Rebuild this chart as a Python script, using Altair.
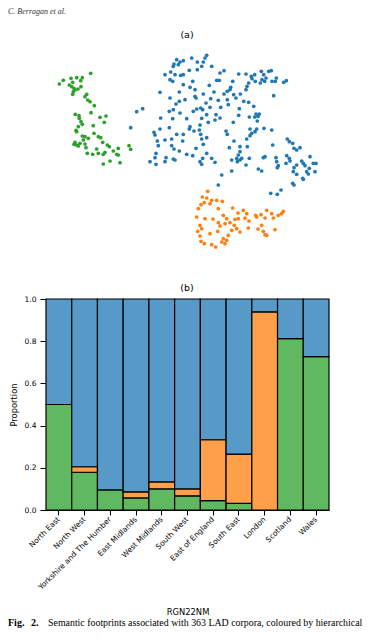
import altair as alt
import pandas as pd

# ---------------- data: panel (b) ----------------
regions = ["North East", "North West", "Yorkshire and The Humber", "East Midlands",
           "West Midlands", "South West", "East of England", "South East",
           "London", "Scotland", "Wales"]
green_share = [0.5, 0.179, 0.095, 0.057, 0.1, 0.067, 0.044, 0.031, 0.0, 0.8125, 0.727]
orange_share = [0.0, 0.026, 0.0, 0.029, 0.033, 0.033, 0.289, 0.234, 0.939, 0.0, 0.0]
blue_share = [0.5, 0.795, 0.905, 0.914, 0.867, 0.9, 0.667, 0.735, 0.061, 0.1875, 0.273]

clusters = ["green", "orange", "blue"]
bar_colors = ["#60b860", "#ff9f4a", "#5799c7"]
point_colors = ["#2ca02c", "#ff7f0e", "#1f77b4"]

# ---------------- data: panel (a) ----------------
green_pts = [(90.7, 73.3), (59.3, 84), (63.3, 80.3), (71, 78.3), (76.7, 77.7), (82.3, 77.7),
             (80.7, 80.7), (69.3, 85), (71.7, 86.7), (74, 88.3), (73.3, 91.7), (72.7, 94.3),
             (81, 86.7), (75, 90), (86.7, 94.3), (85, 96.7), (87.7, 100), (90, 101.7),
             (94.3, 105.7), (91, 112.7), (75.3, 114.3), (79.3, 118.3), (81, 121.7), (82.3, 124.3),
             (78.3, 126.7), (76.7, 131.7), (100, 117.3), (106, 116), (104.3, 122.3), (93.3, 125.7),
             (94, 133.3), (98.3, 136.7), (100.7, 137.7), (82.3, 136), (88.3, 138.3), (83.3, 140),
             (75, 142.3), (76.7, 145), (78.3, 146), (80, 143.3), (85, 144), (102.7, 142.3),
             (107.3, 145), (109.3, 146.7), (96.7, 149), (98.3, 153.3), (103.3, 154.3), (113.3, 151),
             (118.3, 148.3), (116.7, 154.3), (87.3, 153.3), (92.7, 154.3), (110, 161), (103.3, 164),
             (120, 162.7), (129, 145.7), (130.7, 149.3), (74, 144.3), (72.7, 82.3), (78, 89),
             (76, 130.3), (85, 136.7), (86, 147.7), (105, 152.3), (118.3, 155), (79, 115.7)]

blue_pts = [(206.7, 55.3), (205, 58), (203.3, 62), (201.7, 66.3), (197.3, 62), (191.7, 58),
            (183.3, 60.7), (180, 62), (176.7, 59.7), (174, 64), (178.3, 64.7), (173.3, 66.3),
            (165, 74.7), (170.7, 72), (175, 74.7), (180.7, 75.3), (183.3, 74.7), (189.3, 70.3),
            (197.3, 69.7), (211.7, 66.3), (170, 79.7), (172.7, 81.3), (192.7, 81.3), (183.3, 84.7),
            (220, 73), (224, 70.7), (216.7, 80.3), (219.3, 80.3), (232.7, 81.3), (209.3, 85.3),
            (160, 92.3), (179.3, 92), (190, 87.3), (195, 89.7), (203.3, 94), (214, 92), (224, 94),
            (227.3, 91.3), (230, 89.7), (170, 98), (179.3, 101.3), (185, 99.7), (195, 96.3),
            (196, 98), (210.7, 98.7), (218.3, 100.3), (227.3, 99.7), (228.3, 104.7), (176, 104),
            (206, 103), (220.7, 107.3), (142.7, 108.7), (173.3, 109.7), (169.3, 111.3), (180, 113),
            (193.3, 111.3), (196.7, 109), (200.7, 108), (202.7, 109.7), (210, 107.3), (206.7, 114.7),
            (216, 114.7), (220, 118), (160.7, 118), (172.7, 118.7), (186.7, 118.7), (230.7, 87.3),
            (238.7, 74), (246, 74), (251.3, 76.3), (254.7, 74.7), (252, 78.7), (255.3, 81.3),
            (261.3, 71.3), (263.7, 74.7), (268.7, 71.3), (271.3, 70.7), (266, 78), (262, 79.7),
            (264.7, 81.3), (260.3, 83), (272, 81.3), (275.3, 81.3), (276.3, 78), (283.7, 82.3),
            (286.3, 80.7), (248.7, 83), (247, 86.3), (246, 89.7), (233.7, 94.7), (236, 98),
            (240.3, 94), (273.7, 95.7), (243.7, 101.3), (248.7, 102.3), (253.7, 106.3), (239.3, 108.7),
            (256, 114), (258, 116.3), (254.7, 117), (249.3, 117), (238.7, 115.3), (259.3, 114),
            (136.7, 111.7), (130.7, 127.7),
            (201.7, 118.3), (208.3, 122.3), (215, 120), (233.3, 122.3), (257.3, 121),
            (154, 132.3), (155, 135), (160, 129), (169.3, 127.7), (176.7, 134.3), (183.3, 134.3),
            (189.3, 129), (190, 126.7), (194, 131), (199.3, 130), (200, 125), (200.7, 134.3),
            (165, 140), (157.3, 141), (171.7, 139), (182.7, 141), (201.7, 139), (206.7, 137.7),
            (226, 131), (227.3, 134.3), (250, 129), (255, 131.7), (256.7, 129), (264, 128.3),
            (271.7, 130), (251.7, 133.3),
            (158.3, 145.7), (171.7, 145.7), (174, 149), (179.3, 151), (196, 148.3), (203.3, 144.3),
            (229.3, 147.7), (234, 141), (240, 146.7), (247.3, 146.7), (246.7, 139), (250, 135.7),
            (272.7, 145), (287.3, 139), (289.3, 141.7), (292.7, 143.3), (294, 148.3), (296.7, 150),
            (300, 147.7),
            (156, 153.3), (155, 157.7), (166, 157.7), (186.7, 154.3), (192.7, 155.7), (206.7, 153.3),
            (202.7, 158.3), (211.7, 158.3), (200, 161.7), (201.7, 164.3), (173.3, 159), (175, 160),
            (150, 161.7), (165, 161.7), (156, 164.3), (215, 162.3),
            (231.7, 160), (236.7, 158.3), (238.3, 155), (240, 151.7), (237.3, 161.7), (240, 160),
            (241.7, 158.3), (246, 165), (249.3, 158.3), (263.3, 157.7), (265, 156.7), (276, 157.7),
            (276.7, 161.7), (278.3, 165.7), (277.3, 167.7),
            (286.7, 155.7), (289.3, 158.3), (290, 161), (286, 163.3), (294, 167.7), (296.7, 165),
            (301.7, 161), (303.3, 163.3), (305, 165.7), (310, 156.7), (313.3, 163.3), (316, 163.3),
            (309.3, 168.3), (315, 171.7), (306.7, 171.7), (293.3, 171.7), (296.7, 174.3),
            (302.7, 178.3), (292.7, 183.3),
            (258.3, 169), (261.7, 171), (231.7, 171), (221.7, 175), (218.3, 185),
            (270.7, 193.3), (277.3, 194.3), (281, 190), (294, 185), (303.3, 179.3), (308.3, 174)]

orange_pts = [(207.7, 191.3), (202.3, 197), (206.7, 198), (211.7, 200.3), (216.7, 200.3),
              (222.3, 201.3), (204.3, 202.7), (201, 204.7), (210, 203.7), (198.3, 208.7),
              (218.3, 208.7), (232.7, 208), (243.3, 210.3), (246.7, 213.7), (266.7, 210.3),
              (271.7, 213.7), (278.3, 215.3), (281.7, 213.7), (283.3, 211.3), (255.7, 215.3),
              (261, 214.7), (256.7, 217), (196.7, 217), (205, 218.7), (223.3, 215.3), (226.7, 218.7),
              (235, 219.3), (238.3, 218.7), (245, 218), (265, 218), (273.3, 218), (225, 223.7),
              (230, 222.7), (234.3, 225.3), (236.7, 228.7), (231.7, 230.3), (218.3, 222.7),
              (200, 225.3), (197.7, 231.3), (201.7, 228.7), (210, 233.7), (217.7, 231.3),
              (248.3, 228), (261.7, 225.3), (263.3, 231.3), (265, 234.7), (266.7, 235.3),
              (275, 229.7), (240, 232), (228.3, 235.3), (223.3, 238.7), (221.7, 242), (225, 243.7),
              (226.7, 240.3), (200, 236), (201, 241.3), (204.3, 243.7), (211.7, 244.7),
              (215.7, 247), (249, 221), (213, 219), (258, 229), (220, 226), (238, 213)]

header_text = "C. Berragan et al."
caption_bold_1 = "Fig."
caption_bold_2 = "2."
caption_text = "Semantic footprints associated with 363 LAD corpora, coloured by hierarchical"

# ---------------- tables ----------------
rows = []
for i, r in enumerate(regions):
    for k, (c, v) in enumerate(zip(clusters, [green_share[i], orange_share[i], blue_share[i]])):
        if v > 0:
            rows.append({"region": r, "cluster": c, "value": v, "rank": k})
bar_df = pd.DataFrame(rows)

pts = []
for name, lst in zip(clusters, [green_pts, orange_pts, blue_pts]):
    for x, y in lst:
        pts.append({"x": x, "y": y, "group": name})
pts_df = pd.DataFrame(pts)

W = 283
H_A = 242
H_B = 211

# ---------------- panel (a) ----------------
scatter = alt.Chart(pts_df).mark_circle(size=14, opacity=1).encode(
    x=alt.X("x:Q", scale=alt.Scale(domain=[46, 329], nice=False, zero=False), axis=None),
    y=alt.Y("y:Q", scale=alt.Scale(domain=[20, 262], nice=False, zero=False, reverse=True), axis=None),
    color=alt.Color("group:N", scale=alt.Scale(domain=clusters, range=point_colors), legend=None),
)
header = alt.Chart(pd.DataFrame({"t": [header_text]})).mark_text(
    align="left", baseline="top", font="Liberation Serif", fontStyle="italic",
    fontSize=8, color="#333333",
).encode(x=alt.value(-38), y=alt.value(-12), text="t:N")
title_a = alt.Chart(pd.DataFrame({"t": ["(a)"]})).mark_text(
    align="center", baseline="middle", font="DejaVu Sans", fontSize=9.5, color="black",
).encode(x=alt.value(141), y=alt.value(15), text="t:N")

panel_a = alt.layer(scatter, header, title_a).properties(width=W, height=H_A)

# ---------------- panel (b) ----------------
bars = alt.Chart(bar_df).mark_bar(stroke="black", strokeWidth=1.2, opacity=1).encode(
    x=alt.X("region:N", sort=regions,
            scale=alt.Scale(paddingInner=0, paddingOuter=0),
            axis=alt.Axis(title="RGN22NM", labelAngle=315, labelAlign="right",
                          labelBaseline="middle", labelFontSize=7.5, labelFont="DejaVu Sans",
                          labelColor="black", labelPadding=3, tickSize=5, tickColor="black",
                          domainColor="black", domainWidth=1, titleFont="DejaVu Sans",
                          titleFontSize=8.4, titleFontWeight="normal", titleColor="black",
                          titleY=101.5, titleBaseline="middle", labelLimit=300)),
    y=alt.Y("value:Q", stack="zero", scale=alt.Scale(domain=[0, 1], nice=False),
            axis=alt.Axis(values=[0, 0.2, 0.4, 0.6, 0.8, 1.0], format=".1f", title="Proportion",
                          grid=False, domainColor="black", domainWidth=1, tickColor="black",
                          tickSize=6, labelFontSize=7.5, labelFont="DejaVu Sans",
                          labelColor="black", labelPadding=4, labelFlush=False,
                          titleFont="DejaVu Sans", titleFontSize=8.4, titleFontWeight="normal",
                          titleColor="black", titleX=-33, titleBaseline="middle")),
    color=alt.Color("cluster:N", scale=alt.Scale(domain=clusters, range=bar_colors), legend=None),
    order=alt.Order("rank:Q"),
)
title_b = alt.Chart(pd.DataFrame({"t": ["(b)"]})).mark_text(
    align="center", baseline="middle", font="DejaVu Sans", fontSize=9.5, color="black",
).encode(x=alt.value(141), y=alt.value(-11), text="t:N")

cap1 = alt.Chart(pd.DataFrame({"t": [caption_bold_1]})).mark_text(
    align="left", baseline="alphabetic", font="Liberation Serif", fontWeight="bold",
    fontSize=10, color="black",
).encode(x=alt.value(-38), y=alt.value(326.5), text="t:N")
cap2 = alt.Chart(pd.DataFrame({"t": [caption_bold_2]})).mark_text(
    align="left", baseline="alphabetic", font="Liberation Serif", fontWeight="bold",
    fontSize=10, color="black",
).encode(x=alt.value(-15), y=alt.value(326.5), text="t:N")
cap3 = alt.Chart(pd.DataFrame({"t": [caption_text]})).mark_text(
    align="left", baseline="alphabetic", font="Liberation Serif",
    fontSize=9.9, color="black",
).encode(x=alt.value(2), y=alt.value(326.5), text="t:N")

panel_b = alt.layer(bars, title_b, cap1, cap2, cap3).properties(width=W, height=H_B)

chart = alt.vconcat(panel_a, panel_b, spacing=37, bounds="flush").resolve_scale(
    color="independent"
).properties(padding=0).configure_view(strokeWidth=0)

chart.save("out.html", embed_options={"renderer": "svg", "actions": False})
